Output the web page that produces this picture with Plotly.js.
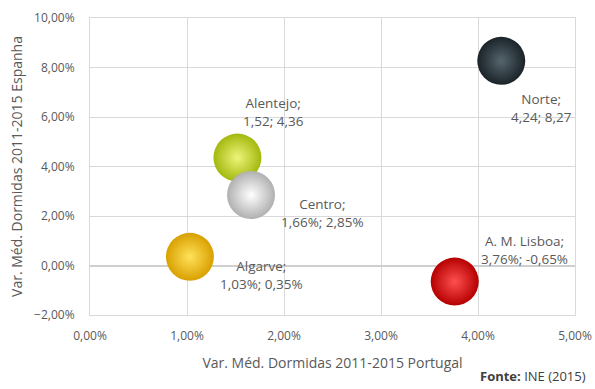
<!DOCTYPE html>
<html><head><meta charset="utf-8">
<script src="https://cdn.plot.ly/plotly-3.0.1.min.js"></script>
<style>html,body{margin:0;padding:0;background:#fff}#chart{width:595px;height:389px}</style>
</head><body><div id="chart"></div>
<script>
const regions = ["Norte", "Alentejo", "Centro", "Algarve", "A. M. Lisboa"];
const portugal = [4.24, 1.52, 1.66, 1.03, 3.76];
const espanha = [8.27, 4.36, 2.85, 0.35, -0.65];
const labels = ["Norte;<br>4,24; 8,27", "Alentejo;<br>1,52; 4,36", "Centro;<br>1,66%; 2,85%", "Algarve;<br>1,03%; 0,35%", "A. M. Lisboa;<br>3,76%; -0,65%"];
const colors = ["#1a2328", "#a3b80e", "#b0b0b0", "#d9a000", "#b50000"];
const highlights = ["#56656d", "#eef57a", "#ffffff", "#ffe25a", "#ff5050"];
const labelOffsets = [[40, 47], [36, -46], [71, 18], [72, 18], [70, -32]];

const traces = regions.map((r, i) => ({
  type: 'scatter', mode: 'markers', x: [portugal[i]], y: [espanha[i]], name: r,
  marker: {size: 48, color: colors[i], line: {width: 0}, gradient: {type: 'radial', color: highlights[i]}},
  hoverinfo: 'x+y+name'
}));

const annotations = regions.map((r, i) => ({
  x: portugal[i], y: espanha[i], xref: 'x', yref: 'y', text: labels[i], showarrow: true,
  arrowcolor: 'rgba(0,0,0,0)', ax: labelOffsets[i][0], ay: labelOffsets[i][1],
  font: {family: 'Open Sans', size: 13.5, color: '#595959'}, align: 'center'
}));
annotations.push({xref: 'paper', yref: 'paper', x: 1.027, y: -0.205, xanchor: 'right', yanchor: 'middle', showarrow: false,
  text: '<b>Fonte:</b> INE (2015)', font: {family: 'Open Sans', size: 13, color: '#404040'}});

const layout = {
  width: 595, height: 389, margin: {l: 90, r: 20, t: 18, b: 74},
  paper_bgcolor: '#fff', plot_bgcolor: '#fff', showlegend: false, separators: ', ',
  font: {family: 'Open Sans', size: 12, color: '#595959'},
  xaxis: {range: [0, 5], dtick: 1, tickformat: '.2f', ticksuffix: '%', gridcolor: '#d9d9d9', showline: true, mirror: true,
    linecolor: '#d9d9d9', zeroline: false, ticklabelstandoff: 10,
    title: {text: 'Var. Méd. Dormidas 2011-2015 Portugal', standoff: 14, font: {size: 14, color: '#595959'}}},
  yaxis: {range: [-2, 10], dtick: 2, tickformat: '.2f', ticksuffix: '%', gridcolor: '#d9d9d9', showline: true, mirror: true,
    linecolor: '#d9d9d9', zeroline: true, zerolinecolor: '#cfcfcf', zerolinewidth: 2, ticklabelstandoff: 12,
    title: {text: 'Var. Méd. Dormidas 2011-2015 Espanha', standoff: 8, font: {size: 14, color: '#595959'}}},
  annotations: annotations
};
Plotly.newPlot('chart', traces, layout, {displayModeBar: false, staticPlot: true});
</script></body></html>
